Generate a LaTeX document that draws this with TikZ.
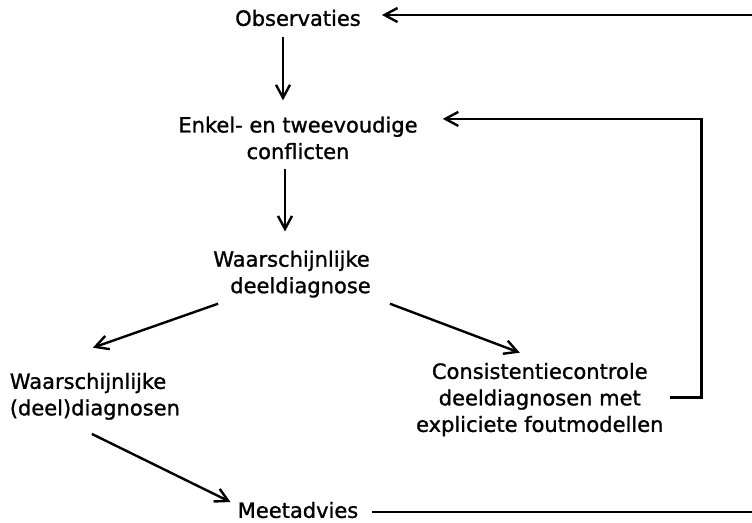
\documentclass[tikz,border=0pt]{standalone}
\usepackage{fontspec}
\setmainfont{DejaVu Sans}[FakeBold=1.2]
\usetikzlibrary{arrows.meta,positioning}

\begin{document}
\begin{tikzpicture}[
    x=1pt, y=-1pt,
    node distance=90pt,
    every node/.style={font=\fontsize{21pt}{26.5pt}\selectfont},
    box/.style={inner sep=0pt, align=center},
    leftbox/.style={inner sep=0pt, align=left},
    flow/.style={-{Straight Barb[length=13pt,width=14pt]}, line width=2.4pt},
    feedback/.style={-{Straight Barb[length=13pt,width=14pt]}, line width=2.4pt}
]
\useasboundingbox (0,0) rectangle (752,522);
\node[box] (obs) at (298,18) {Observaties};
\node[box, below=90pt of obs] (enkel) {Enkel- en tweevoudige\\conflicten};
\node[leftbox, below=91pt of enkel, xshift=-6pt] (deel) {Waarschijnlijke\\\hspace*{17pt}deeldiagnose};
\node[leftbox, below left=75pt and 33pt of deel] (left) {Waarschijnlijke\\(deel)diagnosen};
\node[box, below right=65pt and 45pt of deel] (cons) {Consistentiecontrole\\deeldiagnosen met\\expliciete foutmodellen};
\node[box, below=204pt of deel, xshift=6pt] (meet) {Meetadvies};
\draw[flow] ([xshift=-15pt,yshift=-11pt]obs.south) -- ([xshift=-15pt,yshift=16pt]enkel.north);
\draw[flow] ([xshift=-13pt,yshift=-10pt]enkel.south) -- ([xshift=-13pt,yshift=19pt]enkel.south |- deel.north);
\draw[flow] ([xshift=5pt,yshift=-6pt]deel.south west) -- ([xshift=-2pt,yshift=25pt]left.north);
\draw[flow] ([xshift=19pt,yshift=-6pt]deel.south east) -- ([xshift=-20pt,yshift=10pt]cons.north);
\draw[flow] ([xshift=-3pt,yshift=-14pt]left.south) -- ([xshift=-7pt,yshift=8pt]meet.west);
\draw[feedback] ([xshift=6pt,yshift=2pt]cons.east) -- ++(32pt,0) |- ([xshift=25pt,yshift=19pt]enkel.east);
\draw[feedback] ([xshift=14pt,yshift=-2pt]meet.east) -- ++(420pt,0) |- ([xshift=21pt,yshift=3pt]obs.east);
\end{tikzpicture}
\end{document}
